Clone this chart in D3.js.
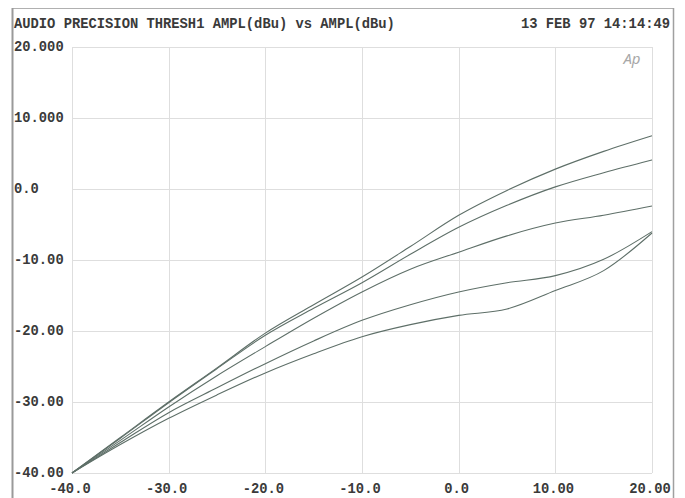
<!DOCTYPE html>
<html>
<head>
<meta charset="utf-8">
<script src="https://cdn.jsdelivr.net/npm/d3@7"></script>
<style>
  body { margin: 0; background: #fff; }
  text { font-family: 'Liberation Mono', 'DejaVu Sans Mono', monospace; font-weight: bold; fill: #3a3a3a; }
</style>
</head>
<body>
<div class="chart"></div>
<script>
// sweep points (dBu in)
const xIn = [-40, -35, -30, -25, -20, -15, -10, -5, 0, 5, 10, 15, 20];

// output level for each threshold setting
const thresh1 = [-40, -35.0, -30.0, -25.2, -20.3, -16.3, -12.4, -8.1, -3.7, -0.2, 2.8, 5.3, 7.5];
const thresh2 = [-40, -35.1, -30.1, -25.3, -20.6, -16.8, -13.2, -9.2, -5.4, -2.3, 0.3, 2.3, 4.1];
const thresh3 = [-40, -35.4, -30.7, -26.3, -22.2, -18.2, -14.5, -11.3, -8.9, -6.6, -4.8, -3.7, -2.4];
const thresh4 = [-40, -35.7, -31.5, -28.0, -24.6, -21.4, -18.5, -16.3, -14.5, -13.2, -12.2, -9.9, -6.0];
const thresh5 = [-40, -36.0, -32.3, -29.0, -25.9, -23.2, -20.8, -19.1, -17.8, -16.9, -14.3, -11.5, -6.2];

const xTicks = [-40, -30, -20, -10, 0, 10, 20];
const xTickLabels = ['-40.0', '-30.0', '-20.0', '-10.0', '0.0', '10.00', '20.00'];
const yTicks = [20, 10, 0, -10, -20, -30, -40];
const yTickLabels = ['20.000', '10.000', '0.0', '-10.00', '-20.00', '-30.00', '-40.00'];

const title = 'AUDIO PRECISION THRESH1 AMPL(dBu) vs AMPL(dBu)';
const stamp = '13 FEB 97 14:14:49';

const W = 685, H = 498;
const margin = { top: 47, right: 33, bottom: 25, left: 72 };

const svg = d3.select('.chart')
  .append('svg')
    .attr('width', W)
    .attr('height', H);

const xScale = d3.scaleLinear().domain([-40, 20]).range([margin.left, W - margin.right]);
const yScale = d3.scaleLinear().domain([-40, 20]).range([H - margin.bottom, margin.top]);

// outer frame
svg.append('line').attr('x1', 12).attr('x2', 673).attr('y1', 8.5).attr('y2', 8.5)
  .attr('stroke', '#b0b0b0').attr('stroke-width', 1);
svg.append('line').attr('x1', 12.5).attr('x2', 12.5).attr('y1', 8).attr('y2', H)
  .attr('stroke', '#9a9a9a').attr('stroke-width', 2);
svg.append('line').attr('x1', 673.5).attr('x2', 673.5).attr('y1', 8).attr('y2', H)
  .attr('stroke', '#a0a0a0').attr('stroke-width', 1.5);

// grid
const grid = svg.append('g').attr('stroke', '#dedede').attr('stroke-width', 1);
grid.selectAll('.vg')
  .data(xTicks)
  .enter()
  .append('line')
    .attr('x1', d => Math.round(xScale(d)) + 0.5)
    .attr('x2', d => Math.round(xScale(d)) + 0.5)
    .attr('y1', yScale(20))
    .attr('y2', yScale(-40));
grid.selectAll('.hg')
  .data(yTicks)
  .enter()
  .append('line')
    .attr('y1', d => Math.round(yScale(d)) + 0.5)
    .attr('y2', d => Math.round(yScale(d)) + 0.5)
    .attr('x1', xScale(-40))
    .attr('x2', xScale(20));

// tick labels
svg.selectAll('.ylab')
  .data(yTicks)
  .enter()
  .append('text')
    .attr('x', 14)
    .attr('y', d => yScale(d) + 4)
    .style('font-size', '13.8px')
    .text((d, i) => yTickLabels[i]);

svg.selectAll('.xlab')
  .data(xTicks)
  .enter()
  .append('text')
    .attr('x', d => xScale(d) - 2)
    .attr('y', 493)
    .attr('text-anchor', 'middle')
    .style('font-size', '13.8px')
    .text((d, i) => xTickLabels[i]);

svg.append('text')
  .attr('x', 14)
  .attr('y', 28)
  .style('font-size', '13.8px')
  .text(title);

svg.append('text')
  .attr('x', 670)
  .attr('y', 28)
  .attr('text-anchor', 'end')
  .style('font-size', '13.8px')
  .text(stamp);

svg.append('text')
  .attr('x', 632)
  .attr('y', 64)
  .attr('text-anchor', 'middle')
  .style('font-family', "'Noto Sans', sans-serif")
  .style('font-weight', 'normal')
  .style('font-style', 'italic')
  .style('font-size', '15px')
  .style('fill', '#a8a8a8')
  .text('Ap');

// curves
const series = [thresh1, thresh2, thresh3, thresh4, thresh5];
const line = d3.line()
  .x((d, i) => xScale(xIn[i]))
  .y(d => yScale(d))
  .curve(d3.curveMonotoneX);

svg.selectAll('.line')
  .data(series)
  .enter()
  .append('path')
    .attr('class', 'line')
    .attr('d', d => line(d))
    .attr('stroke', '#5e6f68')
    .style('stroke-width', 1.1)
    .style('fill', 'none');
</script>
</body>
</html>
